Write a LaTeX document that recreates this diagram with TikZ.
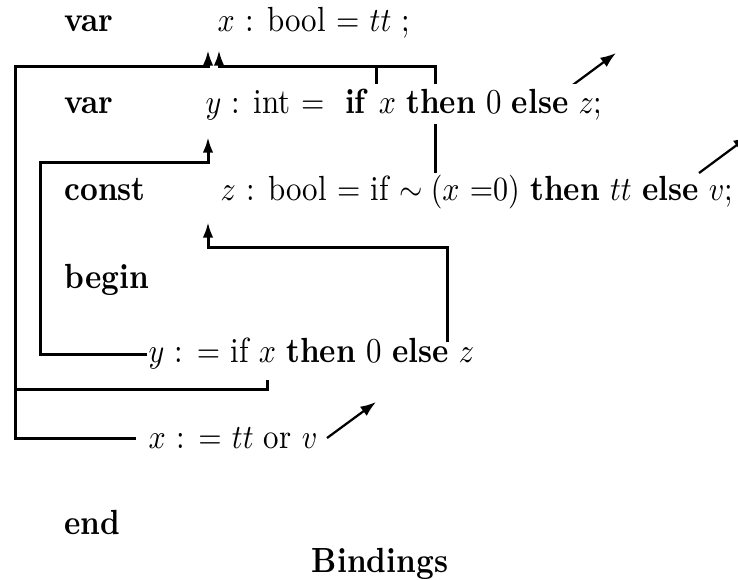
\documentclass[tikz,border=0pt]{standalone}
\usepackage{graphicx}
\usepackage{tikz}
\usetikzlibrary{arrows.meta,positioning}
\newcommand{\tallrow}[1]{\scalebox{1}[1.13]{#1}}
\tikzset{
  code/.style={anchor=base west,inner sep=0pt,font=\fontsize{10.3}{12}\selectfont},
  bind/.style={line width=1pt},
  bindarr/.style={bind,-{Latex[length=5.2pt,width=3.5pt]}},
  freearr/.style={line width=0.75pt,-{Latex[length=5.2pt,width=3.8pt]}}
}
\begin{document}
\begin{tikzpicture}[x=0.3333pt,y=-0.3333pt]
  \useasboundingbox (0,0) rectangle (738,579);
  % declaration points
  \coordinate (xdeclL) at (208,50);
  \coordinate (xdeclR) at (219,50);
  \coordinate (ydecl) at (208,137);
  \coordinate (zdecl) at (208,222);
  % uses and assignments
  \coordinate (xuseif) at (376,90);
  \coordinate (xuseconst) at (435,173);
  \coordinate (xuseassign) at (267,380);
  \coordinate (zuse) at (447,342);
  \coordinate (yassign) at (147,354);
  \coordinate (xassign) at (136,438);
  % free variables
  \coordinate (free1) at (566,90);  \coordinate (free1end) at (616,53);
  \coordinate (free2) at (699,173); \coordinate (free2end) at (749,136);
  \coordinate (free3) at (327,438); \coordinate (free3end) at (376,402);

  % bindings of x
  \draw[bindarr] (xassign) -| (15,66) -| (xdeclL);
  \draw[bind] (xuseassign) |- (15,389);
  \draw[bindarr] (xuseconst) -- (435,66) -| (xdeclR);
  \draw[bind] (xuseif) -- (376,66);
  % binding of y
  \draw[bindarr] (yassign) -| (40,162) -| (ydecl);
  % binding of z
  \draw[bindarr] (zuse) -- (447,247) -| (zdecl);
  % unbound
  \draw[freearr] (free1) -- (free1end);
  \draw[freearr] (free2) -- (free2end);
  \draw[freearr] (free3) -- (free3end);

  % keywords
  \foreach \kw/\y in {var/31,var/113,const/200,begin/288,end/534}
    \node[code] (kw\y) at (64,\y) {\tallrow{\textbf{\kw}}};
  % program text
  \node[code] (decx) at (217,31) {\tallrow{$x$ : bool $=$ $tt$ ;}};
  \node[code,fill=white,inner sep=1.5pt] (decy) at (200.5,113)
    {\tallrow{$y$ : int $=$ \ \textbf{if} $x$ \textbf{then} 0 \textbf{else} $z$;}};
  \node[code] (decz) at (220,200)
    {\tallrow{$z$ : bool $=$ if $\sim (x\ {=}0)$ \textbf{then} $tt$ \textbf{else} $v$;}};
  \node[code] (asgy) at (148,362)
    {\tallrow{$y$ : $=$ if $x$ \textbf{then} 0 \textbf{else} $z$}};
  \node[code] (asgx) at (148,448) {\tallrow{$x$ : $=$ $tt$ or $v$}};
  \node[code,anchor=base] (title) at (380,572) {\tallrow{\textbf{Bindings}}};
\end{tikzpicture}
\end{document}
